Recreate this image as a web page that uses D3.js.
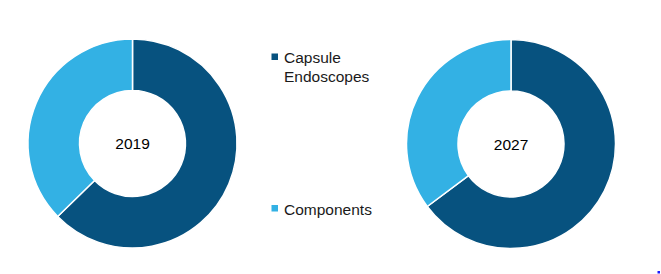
<!DOCTYPE html>
<html><head><meta charset="utf-8">
<script src="https://cdn.jsdelivr.net/npm/d3@7"></script>
<style>html,body{margin:0;padding:0;background:#fff;}svg{display:block;}</style>
</head><body>
<svg id="c" width="661" height="274"></svg>
<script>
const categories = ["Capsule Endoscopes", "Components"];
const years = ["2019", "2027"];
const values2019 = [62.7, 37.3];
const values2027 = [64.8, 35.2];
const colors = ["#07527f", "#33b1e4"];

const svg = d3.select("#c");
const pie = d3.pie().sort(null).value(d => d);
const arc = d3.arc().innerRadius(53).outerRadius(104.5);
const centers = [[132.5, 143.5], [511, 144]];
const datasets = [values2019, values2027];

datasets.forEach((vals, i) => {
  const g = svg.append("g").attr("transform", `translate(${centers[i][0]},${centers[i][1]})`);
  g.selectAll("path").data(pie(vals)).enter().append("path")
    .attr("d", arc).attr("fill", (d, j) => colors[j])
    .attr("stroke", "#fff").attr("stroke-width", 1.5);
  g.append("text").attr("text-anchor", "middle").attr("y", 5.5)
    .attr("font-family", "Liberation Sans, Arial, sans-serif").attr("font-size", 15.5)
    .attr("fill", "#000").text(years[i]);
});

const leg = [
  {y: 63, lines: ["Capsule", "Endoscopes"]},
  {y: 214.5, lines: ["Components"]}
];
leg.forEach((l, i) => {
  svg.append("rect").attr("x", 271.5).attr("y", l.y - 9.5).attr("width", 6.5).attr("height", 6.5).attr("fill", colors[i]);
  const t = svg.append("text").attr("x", 284).attr("y", l.y)
    .attr("font-family", "Liberation Sans, Arial, sans-serif").attr("font-size", 15.5).attr("fill", "#1a1a1a");
  l.lines.forEach((s, k) => t.append("tspan").attr("x", 284).attr("dy", k ? 18.5 : 0).text(s));
});

svg.append("rect").attr("x", 657.5).attr("y", 271).attr("width", 2.5).attr("height", 2.5).attr("fill", "#1a1aff");
</script>
</body></html>
